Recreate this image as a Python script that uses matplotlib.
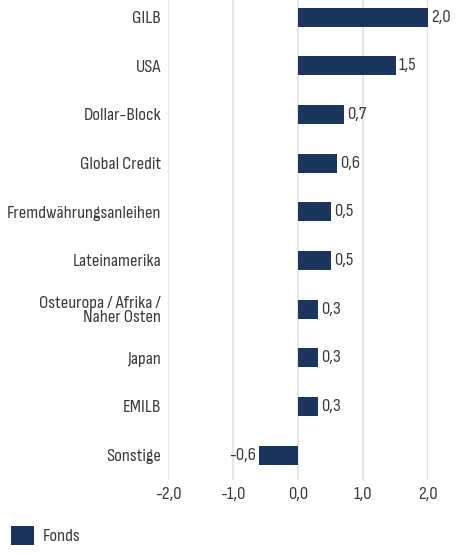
import matplotlib
matplotlib.use('Agg')
import matplotlib.pyplot as plt

# Daten
kategorien = ['GILB', 'USA', 'Dollar-Block', 'Global Credit', 'Fremdwährungsanleihen',
              'Lateinamerika', 'Osteuropa / Afrika /\nNaher Osten', 'Japan', 'EMILB', 'Sonstige']
werte = [2.0, 1.5, 0.7, 0.6, 0.5, 0.5, 0.3, 0.3, 0.3, -0.6]
x_ticks = [-2.0, -1.0, 0.0, 1.0, 2.0]
serie = 'Fonds'

plt.rcParams['font.family'] = ['Sofia Sans Condensed', 'DejaVu Sans']
plt.rcParams['font.weight'] = 300

farbe = '#1b365d'
textfarbe = '#3a3a3a'
fs = 13.5

fig = plt.figure(figsize=(4.57, 5.56), dpi=100)
ax = fig.add_axes([168 / 457, 76 / 556, 260 / 457, 480 / 556])

pos = list(range(len(kategorien)))
ax.barh(pos, werte, height=0.39, color=farbe, zorder=3, label=serie)

# Wertebeschriftungen
for p, w in zip(pos, werte):
    txt = f'{w:.1f}'.replace('.', ',')
    if w >= 0:
        ax.text(w + 0.05, p, txt, va='center', ha='left', fontsize=fs, color=textfarbe, clip_on=False)
    else:
        ax.text(w - 0.05, p, txt, va='center', ha='right', fontsize=fs, color=textfarbe, clip_on=False)

ax.set_xlim(-2.0, 2.0)
ax.set_ylim(9.51, -0.35)
ax.set_yticks(pos)
ax.set_yticklabels(kategorien, fontsize=fs, color=textfarbe, linespacing=0.92)
ax.set_xticks(x_ticks)
ax.set_xticklabels([f'{t:.1f}'.replace('.', ',') for t in x_ticks], fontsize=fs, color=textfarbe)
ax.tick_params(length=0, pad=5)
ax.tick_params(axis='x', pad=5)

ax.grid(axis='x', color='#e6e6e6', linewidth=1.5, zorder=0)
for s in ax.spines.values():
    s.set_visible(False)

fig.legend(loc='lower left', bbox_to_anchor=(0.0, 0.0), frameon=False, fontsize=fs,
           handlelength=1.2, handleheight=1.2, handletextpad=0.5, labelcolor=textfarbe,
           borderaxespad=0.2)

plt.savefig('out.png', dpi=100)
plt.close()
